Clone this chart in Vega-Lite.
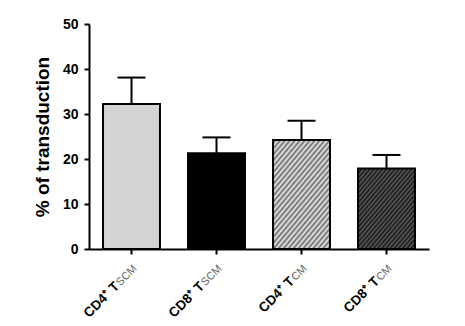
{
  "$schema": "https://vega.github.io/schema/vega-lite/v6.json",
  "width": 340,
  "height": 225,
  "padding": {"left": 33, "top": 17, "right": 35, "bottom": 4},
  "config": {
    "view": {"stroke": null}
  },
  "data": {
    "values": [
      {"cell": "CD4⁺ TSCM", "main": "CD4⁺ T", "sub": "SCM", "value": 32.2, "hi": 38.1},
      {"cell": "CD8⁺ TSCM", "main": "CD8⁺ T", "sub": "SCM", "value": 21.3, "hi": 24.8},
      {"cell": "CD4⁺ TCM", "main": "CD4⁺ T", "sub": "CM", "value": 24.2, "hi": 28.5},
      {"cell": "CD8⁺ TCM", "main": "CD8⁺ T", "sub": "CM", "value": 17.9, "hi": 20.9}
    ]
  },
  "encoding": {
    "x": {
      "field": "cell",
      "type": "nominal",
      "sort": null,
      "scale": {"paddingInner": 0.33, "paddingOuter": 0.165},
      "axis": {
        "title": null,
        "labels": false,
        "domainColor": "black",
        "domainWidth": 2,
        "tickColor": "black",
        "tickWidth": 2,
        "tickSize": 5
      }
    }
  },
  "layer": [
    {
      "mark": {"type": "rule", "color": "black", "strokeWidth": 2},
      "encoding": {
        "y": {
          "field": "value",
          "type": "quantitative",
          "scale": {"domain": [0, 50], "nice": false},
          "axis": {
            "title": "% of transduction",
            "titleFont": "Liberation Sans",
            "titleFontSize": 19,
            "titleFontWeight": "bold",
            "titleColor": "black",
            "titlePadding": 10,
            "values": [0, 10, 20, 30, 40, 50],
            "grid": false,
            "domainColor": "black",
            "domainWidth": 2,
            "tickColor": "black",
            "tickWidth": 2,
            "tickSize": 5,
            "labelFont": "Liberation Sans",
            "labelFontSize": 14,
            "labelFontWeight": "bold",
            "labelColor": "black",
            "labelPadding": 6
          }
        },
        "y2": {"field": "hi"}
      }
    },
    {
      "mark": {"type": "tick", "color": "black", "thickness": 2, "size": 28, "opacity": 1},
      "encoding": {"y": {"field": "hi", "type": "quantitative"}}
    },
    {
      "transform": [{"filter": "datum.sub === 'SCM'"}],
      "mark": {"type": "bar", "stroke": "black", "strokeWidth": 2},
      "encoding": {
        "y": {"field": "value", "type": "quantitative"},
        "fill": {
          "field": "cell",
          "type": "nominal",
          "scale": {"domain": ["CD4⁺ TSCM", "CD8⁺ TSCM"], "range": ["#d4d4d4", "#000000"]},
          "legend": null
        }
      }
    },
    {
      "transform": [{"filter": "datum.cell === 'CD4⁺ TCM'"}],
      "mark": {
        "type": "bar",
        "stroke": "black",
        "strokeWidth": 2,
        "fill": {
          "gradient": "linear",
          "x1": 0, "y1": 0, "x2": 0.73, "y2": 1.17,
          "stops": [
            {"offset": 0, "color": "#ececec"}, {"offset": 0.0167, "color": "#6a6a6a"},
            {"offset": 0.0333, "color": "#ececec"}, {"offset": 0.05, "color": "#6a6a6a"},
            {"offset": 0.0667, "color": "#ececec"}, {"offset": 0.0833, "color": "#6a6a6a"},
            {"offset": 0.1, "color": "#ececec"}, {"offset": 0.1167, "color": "#6a6a6a"},
            {"offset": 0.1333, "color": "#ececec"}, {"offset": 0.15, "color": "#6a6a6a"},
            {"offset": 0.1667, "color": "#ececec"}, {"offset": 0.1833, "color": "#6a6a6a"},
            {"offset": 0.2, "color": "#ececec"}, {"offset": 0.2167, "color": "#6a6a6a"},
            {"offset": 0.2333, "color": "#ececec"}, {"offset": 0.25, "color": "#6a6a6a"},
            {"offset": 0.2667, "color": "#ececec"}, {"offset": 0.2833, "color": "#6a6a6a"},
            {"offset": 0.3, "color": "#ececec"}, {"offset": 0.3167, "color": "#6a6a6a"},
            {"offset": 0.3333, "color": "#ececec"}, {"offset": 0.35, "color": "#6a6a6a"},
            {"offset": 0.3667, "color": "#ececec"}, {"offset": 0.3833, "color": "#6a6a6a"},
            {"offset": 0.4, "color": "#ececec"}, {"offset": 0.4167, "color": "#6a6a6a"},
            {"offset": 0.4333, "color": "#ececec"}, {"offset": 0.45, "color": "#6a6a6a"},
            {"offset": 0.4667, "color": "#ececec"}, {"offset": 0.4833, "color": "#6a6a6a"},
            {"offset": 0.5, "color": "#ececec"}, {"offset": 0.5167, "color": "#6a6a6a"},
            {"offset": 0.5333, "color": "#ececec"}, {"offset": 0.55, "color": "#6a6a6a"},
            {"offset": 0.5667, "color": "#ececec"}, {"offset": 0.5833, "color": "#6a6a6a"},
            {"offset": 0.6, "color": "#ececec"}, {"offset": 0.6167, "color": "#6a6a6a"},
            {"offset": 0.6333, "color": "#ececec"}, {"offset": 0.65, "color": "#6a6a6a"},
            {"offset": 0.6667, "color": "#ececec"}, {"offset": 0.6833, "color": "#6a6a6a"},
            {"offset": 0.7, "color": "#ececec"}, {"offset": 0.7167, "color": "#6a6a6a"},
            {"offset": 0.7333, "color": "#ececec"}, {"offset": 0.75, "color": "#6a6a6a"},
            {"offset": 0.7667, "color": "#ececec"}, {"offset": 0.7833, "color": "#6a6a6a"},
            {"offset": 0.8, "color": "#ececec"}, {"offset": 0.8167, "color": "#6a6a6a"},
            {"offset": 0.8333, "color": "#ececec"}, {"offset": 0.85, "color": "#6a6a6a"},
            {"offset": 0.8667, "color": "#ececec"}, {"offset": 0.8833, "color": "#6a6a6a"},
            {"offset": 0.9, "color": "#ececec"}, {"offset": 0.9167, "color": "#6a6a6a"},
            {"offset": 0.9333, "color": "#ececec"}, {"offset": 0.95, "color": "#6a6a6a"},
            {"offset": 0.9667, "color": "#ececec"}, {"offset": 0.9833, "color": "#6a6a6a"},
            {"offset": 1, "color": "#ececec"}
          ]
        }
      },
      "encoding": {"y": {"field": "value", "type": "quantitative"}}
    },
    {
      "transform": [{"filter": "datum.cell === 'CD8⁺ TCM'"}],
      "mark": {
        "type": "bar",
        "stroke": "black",
        "strokeWidth": 2,
        "fill": {
          "gradient": "linear",
          "x1": 0, "y1": 0, "x2": 0.9, "y2": 1.08,
          "stops": [
            {"offset": 0, "color": "#141414"}, {"offset": 0.0167, "color": "#5e5e5e"},
            {"offset": 0.0333, "color": "#141414"}, {"offset": 0.05, "color": "#5e5e5e"},
            {"offset": 0.0667, "color": "#141414"}, {"offset": 0.0833, "color": "#5e5e5e"},
            {"offset": 0.1, "color": "#141414"}, {"offset": 0.1167, "color": "#5e5e5e"},
            {"offset": 0.1333, "color": "#141414"}, {"offset": 0.15, "color": "#5e5e5e"},
            {"offset": 0.1667, "color": "#141414"}, {"offset": 0.1833, "color": "#5e5e5e"},
            {"offset": 0.2, "color": "#141414"}, {"offset": 0.2167, "color": "#5e5e5e"},
            {"offset": 0.2333, "color": "#141414"}, {"offset": 0.25, "color": "#5e5e5e"},
            {"offset": 0.2667, "color": "#141414"}, {"offset": 0.2833, "color": "#5e5e5e"},
            {"offset": 0.3, "color": "#141414"}, {"offset": 0.3167, "color": "#5e5e5e"},
            {"offset": 0.3333, "color": "#141414"}, {"offset": 0.35, "color": "#5e5e5e"},
            {"offset": 0.3667, "color": "#141414"}, {"offset": 0.3833, "color": "#5e5e5e"},
            {"offset": 0.4, "color": "#141414"}, {"offset": 0.4167, "color": "#5e5e5e"},
            {"offset": 0.4333, "color": "#141414"}, {"offset": 0.45, "color": "#5e5e5e"},
            {"offset": 0.4667, "color": "#141414"}, {"offset": 0.4833, "color": "#5e5e5e"},
            {"offset": 0.5, "color": "#141414"}, {"offset": 0.5167, "color": "#5e5e5e"},
            {"offset": 0.5333, "color": "#141414"}, {"offset": 0.55, "color": "#5e5e5e"},
            {"offset": 0.5667, "color": "#141414"}, {"offset": 0.5833, "color": "#5e5e5e"},
            {"offset": 0.6, "color": "#141414"}, {"offset": 0.6167, "color": "#5e5e5e"},
            {"offset": 0.6333, "color": "#141414"}, {"offset": 0.65, "color": "#5e5e5e"},
            {"offset": 0.6667, "color": "#141414"}, {"offset": 0.6833, "color": "#5e5e5e"},
            {"offset": 0.7, "color": "#141414"}, {"offset": 0.7167, "color": "#5e5e5e"},
            {"offset": 0.7333, "color": "#141414"}, {"offset": 0.75, "color": "#5e5e5e"},
            {"offset": 0.7667, "color": "#141414"}, {"offset": 0.7833, "color": "#5e5e5e"},
            {"offset": 0.8, "color": "#141414"}, {"offset": 0.8167, "color": "#5e5e5e"},
            {"offset": 0.8333, "color": "#141414"}, {"offset": 0.85, "color": "#5e5e5e"},
            {"offset": 0.8667, "color": "#141414"}, {"offset": 0.8833, "color": "#5e5e5e"},
            {"offset": 0.9, "color": "#141414"}, {"offset": 0.9167, "color": "#5e5e5e"},
            {"offset": 0.9333, "color": "#141414"}, {"offset": 0.95, "color": "#5e5e5e"},
            {"offset": 0.9667, "color": "#141414"}, {"offset": 0.9833, "color": "#5e5e5e"},
            {"offset": 1, "color": "#141414"}
          ]
        }
      },
      "encoding": {"y": {"field": "value", "type": "quantitative"}}
    },
    {
      "mark": {
        "type": "text",
        "angle": 315,
        "align": "right",
        "font": "Liberation Sans",
        "fontSize": 11,
        "color": "#666666",
        "dx": -10,
        "dy": 15.5
      },
      "encoding": {
        "y": {"datum": 0, "type": "quantitative"},
        "text": {"field": "sub"}
      }
    },
    {
      "transform": [{"filter": "datum.sub === 'SCM'"}],
      "mark": {
        "type": "text",
        "angle": 315,
        "align": "right",
        "font": "Liberation Sans",
        "fontSize": 13.5,
        "fontWeight": "bold",
        "color": "black",
        "dx": -35,
        "dy": 15
      },
      "encoding": {
        "y": {"datum": 0, "type": "quantitative"},
        "text": {"field": "main"}
      }
    },
    {
      "transform": [{"filter": "datum.sub === 'CM'"}],
      "mark": {
        "type": "text",
        "angle": 315,
        "align": "right",
        "font": "Liberation Sans",
        "fontSize": 13.5,
        "fontWeight": "bold",
        "color": "black",
        "dx": -28,
        "dy": 15
      },
      "encoding": {
        "y": {"datum": 0, "type": "quantitative"},
        "text": {"field": "main"}
      }
    }
  ]
}
